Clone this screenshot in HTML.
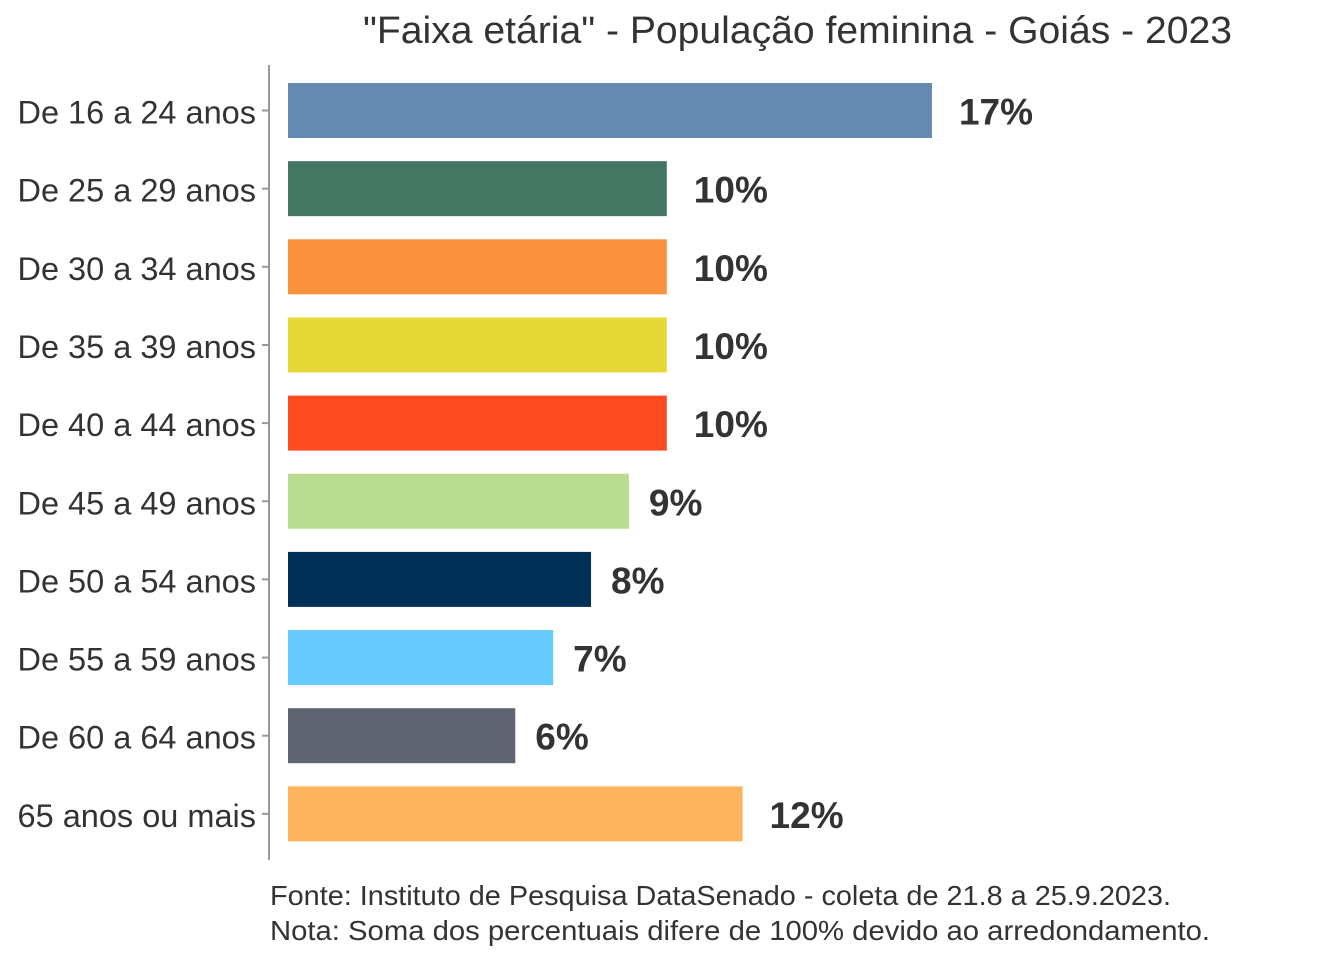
<!DOCTYPE html>
<html><head><meta charset="utf-8"><style>
body{margin:0;background:#fff;}
svg text{font-family:"Liberation Sans",sans-serif;}
</style></head><body>
<svg width="1344" height="960" xmlns="http://www.w3.org/2000/svg">
<text x="363" y="43" textLength="869" lengthAdjust="spacingAndGlyphs" font-size="38" fill="#333">"Faixa etária" - População feminina - Goiás - 2023</text>
<line x1="269" y1="65" x2="269" y2="860" stroke="#999" stroke-width="2"/>
<g id="bars"></g>
<text x="270" y="905" textLength="901" lengthAdjust="spacingAndGlyphs" font-size="28" fill="#333">Fonte: Instituto de Pesquisa DataSenado - coleta de 21.8 a 25.9.2023.</text>
<text x="270" y="940" textLength="940" lengthAdjust="spacingAndGlyphs" font-size="28" fill="#333">Nota: Soma dos percentuais difere de 100% devido ao arredondamento.</text>
</svg>
<script>
const categories=["De 16 a 24 anos","De 25 a 29 anos","De 30 a 34 anos","De 35 a 39 anos","De 40 a 44 anos","De 45 a 49 anos","De 50 a 54 anos","De 55 a 59 anos","De 60 a 64 anos","65 anos ou mais"];
const values=[17,10,10,10,10,9,8,7,6,12];
const labels=["17%","10%","10%","10%","10%","9%","8%","7%","6%","12%"];
const colors=["#6689b0","#457563","#fb923e","#e6d836","#ff4b22","#b9dc90","#003055","#66caff","#5e6470","#fdb25c"];
const NS="http://www.w3.org/2000/svg";
const g=document.getElementById('bars');
const x=v=>288+v*37.88;
const y=i=>110.5+i*78.15;
const bh=55;
categories.forEach((c,i)=>{
  const r=document.createElementNS(NS,'rect');
  r.setAttribute('x',288);r.setAttribute('y',y(i)-bh/2);
  r.setAttribute('width',x(values[i])-288);r.setAttribute('height',bh);
  r.setAttribute('fill',colors[i]);
  
  
  g.appendChild(r);
  const t=document.createElementNS(NS,'line');
  t.setAttribute('x1',262);t.setAttribute('x2',269);t.setAttribute('y1',y(i));t.setAttribute('y2',y(i));
  t.setAttribute('stroke','#999');t.setAttribute('stroke-width',2);
  
  
  g.appendChild(t);
  const l=document.createElementNS(NS,'text');
  l.setAttribute('x',256);l.setAttribute('y',y(i)+13);l.setAttribute('text-anchor','end');
  l.setAttribute('font-size','32.5');l.setAttribute('fill','#333');l.textContent=c;
  
  
  g.appendChild(l);
  const v=document.createElementNS(NS,'text');
  v.setAttribute('x',x(values[i])+(labels[i].length>2?27:20));v.setAttribute('y',y(i)+14);
  v.setAttribute('font-size','37');v.setAttribute('font-weight','bold');v.setAttribute('fill','#333');
  v.textContent=labels[i];
  
  
  g.appendChild(v);
});
</script>
</body></html>
